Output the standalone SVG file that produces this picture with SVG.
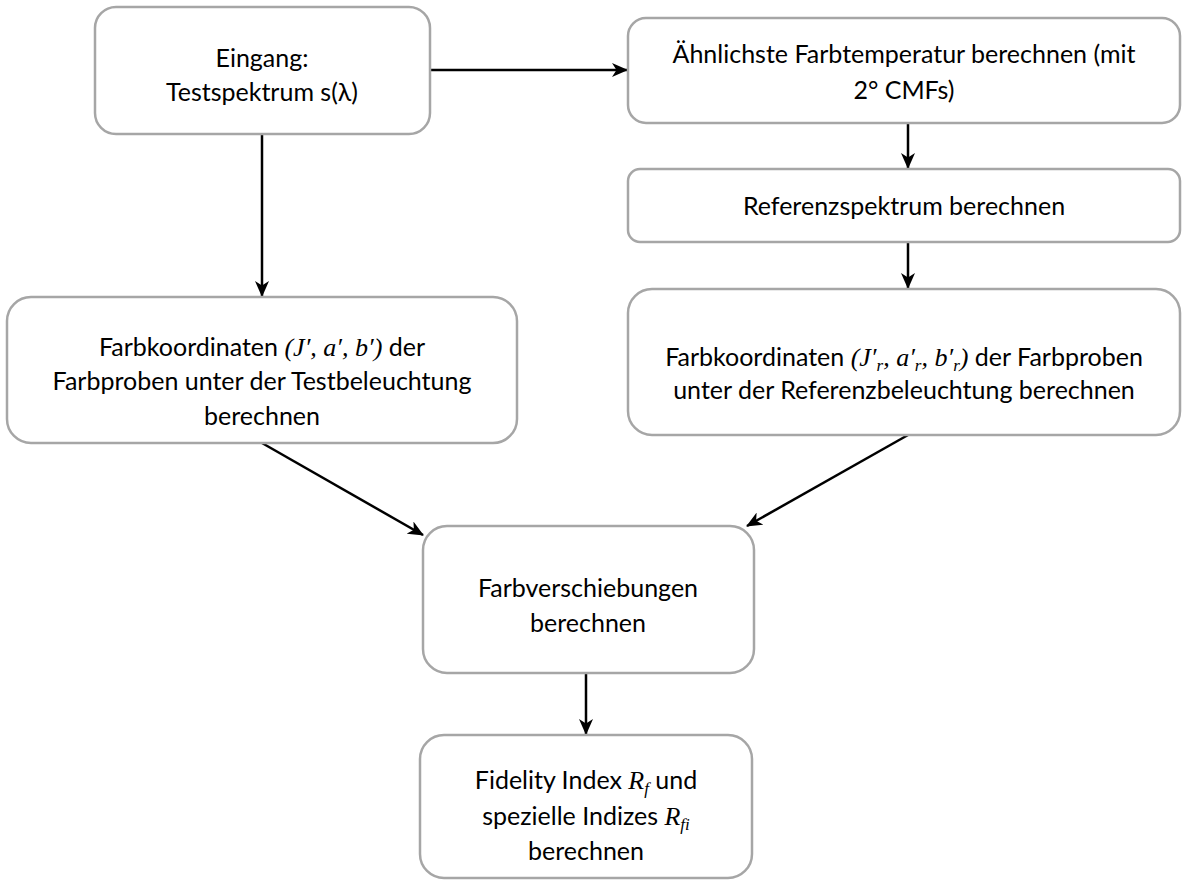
<svg xmlns="http://www.w3.org/2000/svg" width="1182" height="880" viewBox="0 0 1182 880">
<style>
.box{fill:#fff;stroke:#a6a6a6;stroke-width:2.5}
.t{font-family:Lato,"Liberation Sans",sans-serif;font-size:25px;fill:#000;text-anchor:middle}
.m{font-family:"Liberation Serif",serif;font-style:italic;font-size:26px}
.s{font-size:17px}
.c{stroke:#000;stroke-width:2.5;fill:none;marker-end:url(#ah)}
</style>
<defs>
<marker id="ah" viewBox="0 0 16 14" refX="15" refY="7" markerWidth="16" markerHeight="14" markerUnits="userSpaceOnUse" orient="auto">
<path d="M0,0 L16,7 L0,14 L4.5,7 z" fill="#000"/>
</marker>
</defs>
<rect width="1182" height="880" fill="#fff"/>
<g id="connectors">
<line class="c" x1="430" y1="70" x2="627" y2="70"/>
<line class="c" x1="262" y1="134" x2="262" y2="296"/>
<line class="c" x1="908" y1="123" x2="908" y2="168"/>
<line class="c" x1="908" y1="242" x2="908" y2="288"/>
<line class="c" x1="262" y1="443" x2="423" y2="535"/>
<line class="c" x1="908" y1="435" x2="747" y2="526"/>
<line class="c" x1="586" y1="673" x2="586" y2="734"/>
</g>
<g id="n1">
<rect class="box" x="95" y="7" width="335" height="127" rx="21"/>
<text class="t" x="262" y="67">Eingang:</text>
<text class="t" x="262" y="101">Testspektrum s(λ)</text>
</g>
<g id="n2">
<rect class="box" x="628" y="18" width="552" height="105" rx="18"/>
<text class="t" x="904" y="63">Ähnlichste Farbtemperatur berechnen (mit</text>
<text class="t" x="904" y="99">2° CMFs)</text>
</g>
<g id="n3">
<rect class="box" x="628" y="169" width="552" height="73" rx="12"/>
<text class="t" x="904" y="215">Referenzspektrum berechnen</text>
</g>
<g id="n4">
<rect class="box" x="7" y="297" width="510" height="146" rx="24"/>
<text class="t" x="262" y="356">Farbkoordinaten <tspan class="m">(J′, a′, b′)</tspan> der</text>
<text class="t" x="262" y="390">Farbproben unter der Testbeleuchtung</text>
<text class="t" x="262" y="425">berechnen</text>
</g>
<g id="n5">
<rect class="box" x="628" y="289" width="552" height="146" rx="24"/>
<text class="t" x="904" y="366">Farbkoordinaten <tspan class="m">(J′<tspan class="s" dy="5">r</tspan><tspan dy="-5">, a′</tspan><tspan class="s" dy="5">r</tspan><tspan dy="-5">, b′</tspan><tspan class="s" dy="5">r</tspan><tspan dy="-5">)</tspan></tspan> der Farbproben</text>
<text class="t" x="904" y="399">unter der Referenzbeleuchtung berechnen</text>
</g>
<g id="n6">
<rect class="box" x="423" y="526" width="331" height="147" rx="24"/>
<text class="t" x="588" y="597">Farbverschiebungen</text>
<text class="t" x="588" y="632">berechnen</text>
</g>
<g id="n7">
<rect class="box" x="420" y="735" width="332" height="143" rx="24"/>
<text class="t" x="586" y="789">Fidelity Index <tspan class="m">R<tspan class="s" dy="5">f</tspan></tspan><tspan dy="-5"> und</tspan></text>
<text class="t" x="586" y="825">spezielle Indizes <tspan class="m">R<tspan class="s" dy="5">fi</tspan></tspan></text>
<text class="t" x="586" y="860">berechnen</text>
</g>
</svg>
